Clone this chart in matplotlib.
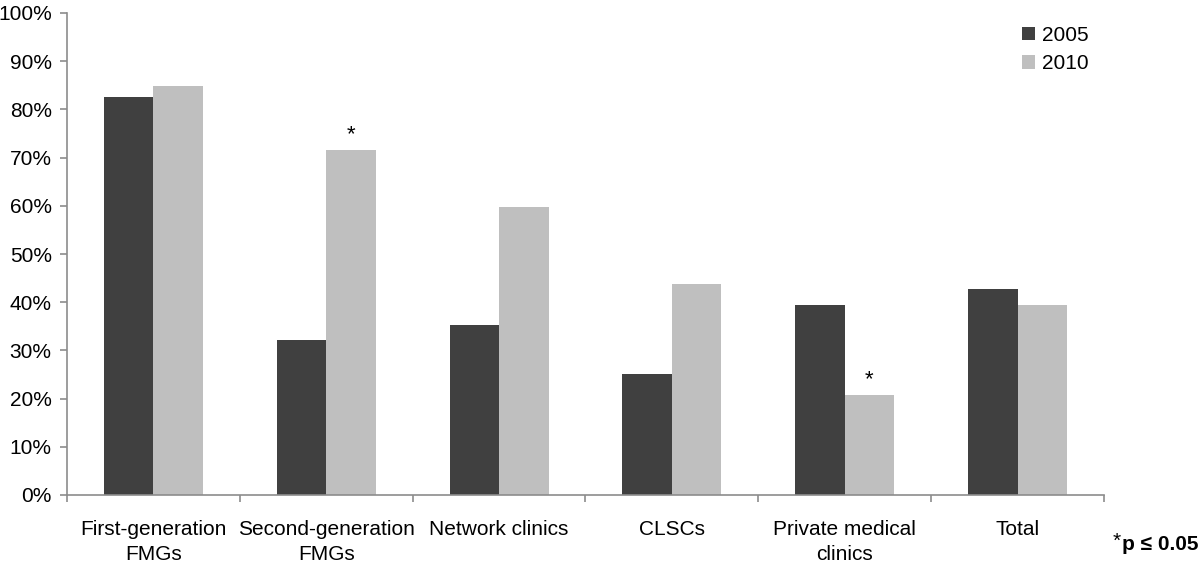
import numpy as np
import matplotlib
matplotlib.use("Agg")
import matplotlib.pyplot as plt
from matplotlib.ticker import FixedLocator, FuncFormatter

plt.rcParams['font.family'] = ['Liberation Sans', 'DejaVu Sans']

categories = ["First-generation\nFMGs", "Second-generation\nFMGs", "Network clinics",
              "CLSCs", "Private medical\nclinics", "Total"]
vals_2005 = [82.5, 32.2, 35.2, 25.2, 39.5, 42.8]
vals_2010 = [84.8, 71.5, 59.8, 43.8, 20.8, 39.5]
signif_2010 = [False, True, False, False, True, False]

DARK = "#404040"
LIGHT = "#bfbfbf"
AXE = "#8c8c8c"
FS = 15

fig = plt.figure(figsize=(12, 5.67), dpi=100)
ax = fig.add_axes([67/1200, 1 - 495/567, (1104 - 67)/1200, (495 - 13)/567])

x = np.arange(len(categories))
w = 0.286
ax.bar(x - w/2, vals_2005, w, color=DARK, label="2005")
ax.bar(x + w/2, vals_2010, w, color=LIGHT, label="2010")

# asterisques de significativite
for xi, v, s in zip(x, vals_2010, signif_2010):
    if s:
        ax.text(xi + w/2, v + 1.0, "*", ha="center", va="bottom", fontsize=FS + 1)

ax.set_xlim(-0.5, len(categories) - 0.5)
ax.set_ylim(0, 100)
ax.set_yticks(np.arange(0, 101, 10))
ax.yaxis.set_major_formatter(FuncFormatter(lambda v, p: f"{int(v)}%"))

ax.set_xticks(x)
ax.set_xticklabels(categories, fontsize=FS, linespacing=1.38)
ax.xaxis.set_minor_locator(FixedLocator(np.arange(-0.5, len(categories), 1)))
ax.tick_params(axis="x", which="major", length=0, pad=18)
ax.tick_params(axis="x", which="minor", length=5, color=AXE, width=1.2)
ax.tick_params(axis="y", length=5, color=AXE, width=1.2, labelsize=FS, pad=6)

for sp in ("top", "right"):
    ax.spines[sp].set_visible(False)
for sp in ("left", "bottom"):
    ax.spines[sp].set_color(AXE)
    ax.spines[sp].set_linewidth(1.2)

ax.legend(loc="upper left", bbox_to_anchor=(1022/1200, 1 - 26/567),
          bbox_transform=fig.transFigure, frameon=False, fontsize=FS,
          handlelength=0.6, handleheight=0.6, handletextpad=0.35,
          labelspacing=0.45, borderpad=0, borderaxespad=0)

note = fig.text(1199/1200, 1 - 545/567, "p \u2264 0.05", ha="right", va="center",
                fontsize=FS, fontweight="bold")
fig.text(0, 0, "")
ax.annotate("*", xy=(0, 1), xycoords=note, xytext=(-1, 3), textcoords="offset points",
            ha="right", va="top", fontsize=FS, annotation_clip=False)

fig.savefig("out.png", dpi=100)
